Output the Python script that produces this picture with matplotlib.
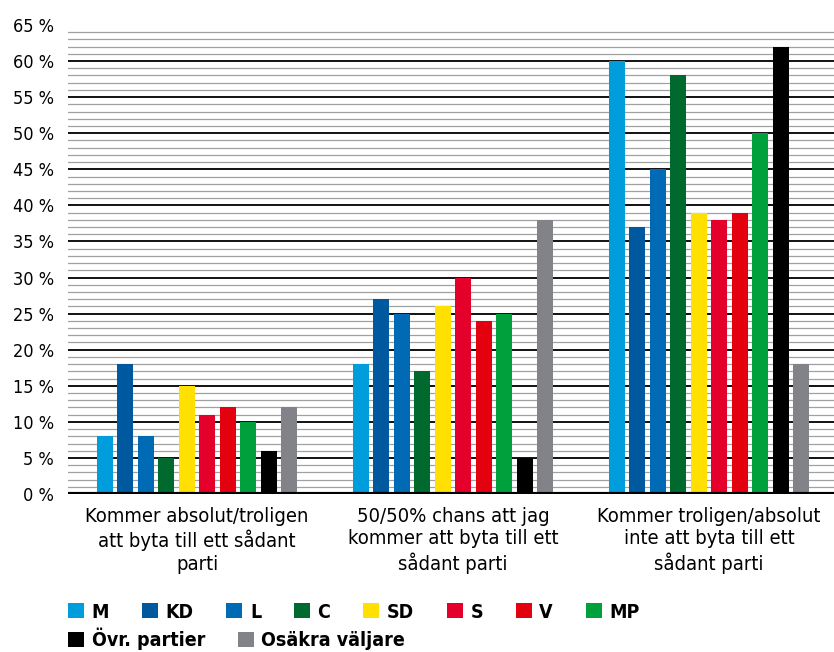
import matplotlib.pyplot as plt
import numpy as np
from matplotlib.patches import Patch

plt.rcParams['font.family'] = ['DejaVu Sans']
plt.rcParams['font.stretch'] = 'condensed'

# data
categories = ['Kommer absolut/troligen\natt byta till ett sådant\nparti',
              '50/50% chans att jag\nkommer att byta till ett\nsådant parti',
              'Kommer troligen/absolut\ninte att byta till ett\nsådant parti']
parties = ['M', 'KD', 'L', 'C', 'SD', 'S', 'V', 'MP', 'Övr. partier', 'Osäkra väljare']
values = {
    'M':              [8, 18, 60],
    'KD':             [18, 27, 37],
    'L':              [8, 25, 45],
    'C':              [5, 17, 58],
    'SD':             [15, 26, 39],
    'S':              [11, 30, 38],
    'V':              [12, 24, 39],
    'MP':             [10, 25, 50],
    'Övr. partier':   [6, 5, 62],
    'Osäkra väljare': [12, 38, 18],
}
colors = ['#009ddc', '#00589e', '#006ab4', '#006a2e', '#ffe000',
          '#e4002b', '#e3000f', '#00a03c', '#000000', '#828289']

fig = plt.figure(figsize=(8.34, 6.52), dpi=100)
ax = fig.add_axes([0.0815, 0.2423, 0.9185, 0.7194])

x = np.arange(len(categories))
step = 0.08
width = 0.0625
n = len(parties)
for i, (p, c) in enumerate(zip(parties, colors)):
    off = (i - (n - 1) / 2) * step
    ax.bar(x + off, values[p], width=width, color=c, zorder=3)

# grid lines: dark every 5 %, grey every 1 %
for v in range(1, 65):
    if v % 5 == 0:
        ax.axhline(v, color='#111111', lw=1.4, zorder=1)
    else:
        ax.axhline(v, color='#a0a0a0', lw=0.9, zorder=1)
ax.axhline(0, color='black', lw=3.0, zorder=4)

ax.set_xlim(-0.504, 2.488)
ax.set_ylim(0, 65)
ax.set_yticks(range(0, 66, 5))
ax.set_yticklabels([f'{v} %' for v in range(0, 66, 5)], fontsize=13)
ax.set_xticks(x)
ax.set_xticklabels(categories, fontsize=14.5, linespacing=1.25)
ax.tick_params(axis='both', length=0)
ax.tick_params(axis='y', pad=10)
ax.tick_params(axis='x', pad=9)
for s in ax.spines.values():
    s.set_visible(False)

# legend, two rows
handles = [Patch(facecolor=c, edgecolor='none', label=p) for p, c in zip(parties, colors)]
common = dict(loc='center left', frameon=False, handlelength=0.82, handleheight=0.82,
              handletextpad=0.4, columnspacing=1.68, borderaxespad=0, borderpad=0,
              prop={'size': 14, 'weight': 'bold', 'stretch': 'condensed'})
fig.legend(handles=handles[:8], bbox_to_anchor=(0.0815, 0.0613), ncol=8, **common)
fig.legend(handles=handles[8:], bbox_to_anchor=(0.0815, 0.0205), ncol=2, **common)

fig.savefig('out.png', dpi=100)
